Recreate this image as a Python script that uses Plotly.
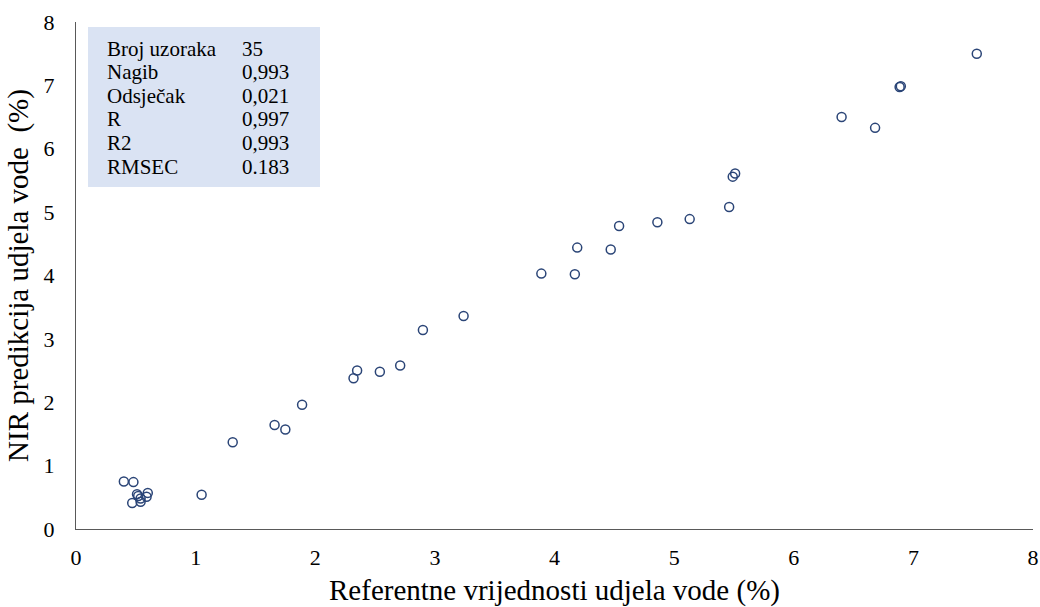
import plotly.graph_objects as go

# Reference (x) and NIR-predicted (y) water content, %
ref_values = [0.40, 0.48, 0.51, 0.60, 0.59, 0.54, 0.54, 0.47, 0.52, 1.05,
              1.31, 1.66, 1.75, 1.89, 2.32, 2.35, 2.54, 2.71, 2.90, 3.24,
              3.89, 4.17, 4.19, 4.47, 4.54, 4.86, 5.13, 5.46, 5.49, 5.51,
              6.40, 6.68, 6.885, 6.895, 7.53]
nir_values = [0.75, 0.74, 0.55, 0.57, 0.51, 0.48, 0.43, 0.41, 0.52, 0.54,
              1.37, 1.64, 1.57, 1.96, 2.38, 2.50, 2.48, 2.58, 3.14, 3.36,
              4.03, 4.02, 4.44, 4.41, 4.78, 4.84, 4.89, 5.08, 5.56, 5.61,
              6.50, 6.33, 6.975, 6.985, 7.50]

stat_labels = ["Broj uzoraka", "Nagib", "Odsječak", "R", "R2", "RMSEC"]
stat_values = ["35", "0,993", "0,021", "0,997", "0,993", "0.183"]

x_ticks = list(range(0, 9))
y_ticks = list(range(0, 9))

FONT = "Liberation Serif, Times New Roman, serif"

fig = go.Figure()
fig.add_trace(go.Scatter(
    x=ref_values, y=nir_values, mode="markers",
    marker=dict(symbol="circle-open", size=9, color="#2B4577",
                line=dict(width=1.5, color="#2B4577")),
    showlegend=False, hoverinfo="x+y"))

W, H = 1040, 607
ml, mr, mt, mb = 76, 7, 22, 78
pw, ph = W - ml - mr, H - mt - mb

def px(xp):
    return (xp - ml) / pw

def py(yp):
    return (H - mb - yp) / ph

# stats box
fig.add_shape(type="rect", xref="paper", yref="paper",
              x0=px(88), x1=px(320), y0=py(187), y1=py(27),
              fillcolor="#DAE3F3", line=dict(width=0), layer="below")
row0, step = 49, 23.5
for i, (lab, val) in enumerate(zip(stat_labels, stat_values)):
    yy = py(row0 + i * step)
    fig.add_annotation(xref="paper", yref="paper", x=px(107), y=yy,
                       text=lab, showarrow=False, xanchor="left", yanchor="middle",
                       xshift=-2, font=dict(family=FONT, size=21, color="#000000"))
    fig.add_annotation(xref="paper", yref="paper", x=px(242), y=yy,
                       text=val, showarrow=False, xanchor="left", yanchor="middle",
                       xshift=-2, font=dict(family=FONT, size=21, color="#000000"))

fig.update_layout(
    width=W, height=H,
    margin=dict(l=ml, r=mr, t=mt, b=mb, pad=0),
    paper_bgcolor="white", plot_bgcolor="white",
    font=dict(family=FONT, color="#000000"),
    xaxis=dict(range=[0, 8], tickvals=x_ticks, showgrid=False, zeroline=False,
               showline=True, linecolor="#595959", linewidth=1,
               ticks="", tickfont=dict(family=FONT, size=22),
               ticklabelstandoff=9, automargin=False,
               title=dict(text="Referentne vrijednosti udjela vode (%)",
                          font=dict(family=FONT, size=29), standoff=16)),
    yaxis=dict(range=[0, 8], tickvals=y_ticks, showgrid=False, zeroline=False,
               showline=True, linecolor="#595959", linewidth=1,
               ticks="", tickfont=dict(family=FONT, size=22),
               ticklabelstandoff=16, automargin=False,
               title=dict(text="NIR predikcija udjela vode  (%)",
                          font=dict(family=FONT, size=29), standoff=6)),
)

fig.write_html("out.html",
               config={"displayModeBar": False},
               post_script="document.body.style.margin='0';"
                           "document.body.style.overflow='hidden';")
